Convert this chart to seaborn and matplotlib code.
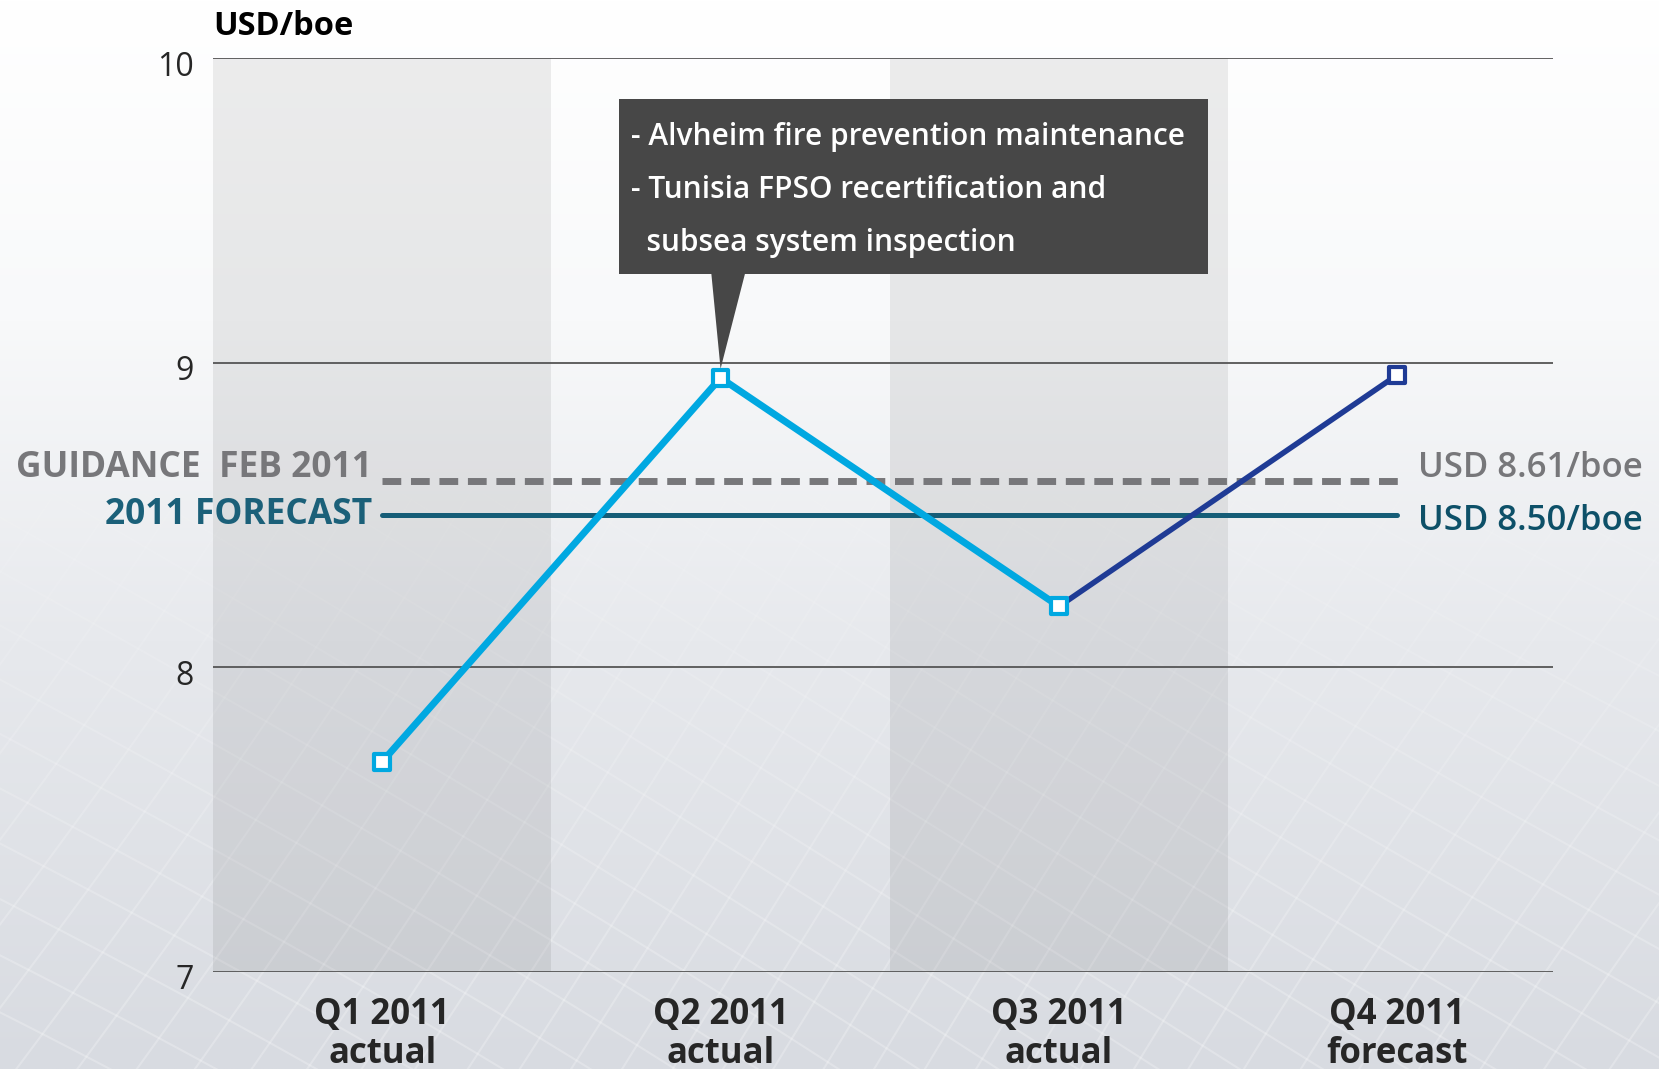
import numpy as np
import pandas as pd
import matplotlib
matplotlib.use("Agg")
import matplotlib.pyplot as plt
import matplotlib.transforms as mtransforms
from matplotlib.patches import Polygon, Rectangle
from matplotlib.collections import LineCollection
from matplotlib.colors import to_rgb
import seaborn as sns

# data
quarters = ["Q1 2011\nactual", "Q2 2011\nactual", "Q3 2011\nactual", "Q4 2011\nforecast"]
cost = [7.69, 8.95, 8.20, 8.96]
status = ["actual", "actual", "actual", "forecast"]
guidance_feb = 8.61
forecast_2011 = 8.50
callout_lines = ["- Alvheim fire prevention maintenance",
                 "- Tunisia FPSO recertification and",
                 "  subsea system inspection"]

LIGHT_BLUE = "#00a8e1"
NAVY = "#1f3b95"
GREY = "#77777a"
TEAL = "#155d77"

sns.set_style("white")
plt.rcParams["font.family"] = ["Open Sans", "DejaVu Sans"]

W, H = 1659, 1069
fig = plt.figure(figsize=(W / 100, H / 100), dpi=100)

# background gradient + faint curved mesh (decoration only)
bg = fig.add_axes([0, 0, 1, 1], zorder=-2)
t = np.linspace(0, 1, 400)
stops = [0.0, 0.3, 0.6, 1.0]
cols = np.array([to_rgb(c) for c in ["#ffffff", "#f8f9fa", "#e7e9ed", "#d8dbe1"]])
grad = np.stack([np.interp(t, stops, cols[:, i]) for i in range(3)], axis=-1)
bg.imshow(grad[:, None, :].repeat(10, axis=1), aspect="auto", extent=[0, W, H, 0])
bg.set_xlim(0, W)
bg.set_ylim(H, 0)
bg.axis("off")

cx, cy = 820, 760
th = np.deg2rad(32)
rot = np.array([[np.cos(th), -np.sin(th)], [np.sin(th), np.cos(th)]])
segs, rgba = [], []
for family in (0, 1):
    for u in np.arange(-1600, 1601, 42):
        v = np.linspace(-1600, 1600, 260)
        p = np.stack([np.full_like(v, u), v], axis=1) if family == 0 else np.stack([v, np.full_like(v, u)], axis=1)
        p = p @ rot.T
        r2 = (p ** 2).sum(axis=1) / 900 ** 2
        p = p * (1 + 0.15 * r2)[:, None]
        x, y = p[:, 0] + cx, p[:, 1] + cy
        pts = np.stack([x, y], axis=1)
        s = np.stack([pts[:-1], pts[1:]], axis=1)
        ym = (y[:-1] + y[1:]) / 2
        a = 0.24 * np.clip((ym - 330) / 650, 0, 1)
        segs.append(s)
        rgba.append(np.column_stack([np.ones((len(a), 3)), a]))
bg.add_collection(LineCollection(np.concatenate(segs), colors=np.concatenate(rgba), linewidths=1.5))

ax = fig.add_axes([213 / W, 1 - 972 / H, (1553 - 213) / W, (972 - 58) / H])
ax.patch.set_alpha(0)

pos = np.arange(len(quarters))
seg = pd.DataFrame({
    "pos": list(pos[:3]) + list(pos[2:]),
    "cost": cost[:3] + cost[2:],
    "segment": ["actual"] * 3 + ["forecast"] * 2,
})

# alternating column bands
for i in pos:
    if i % 2 == 0:
        ax.axvspan(i - 0.5, i + 0.5, color="black", alpha=0.07, lw=0, zorder=0)

ax.set_ylim(7, 10)
ax.set_xlim(-0.5, 3.46)
ax.set_yticks([7, 8, 9, 10])
ax.grid(axis="y", color="#555555", lw=1.3, zorder=1)
ax.grid(axis="x", visible=False)
ax.set_axisbelow(True)

# reference lines
ax.plot([pos[0], pos[-1] + 0.02], [guidance_feb] * 2, color=GREY, lw=5,
        dashes=(2.7, 1.4), zorder=2, dash_capstyle="butt")
ax.plot([pos[0], pos[-1]], [forecast_2011] * 2, color=TEAL, lw=3.6, zorder=2)

sns.lineplot(data=seg, x="pos", y="cost", hue="segment",
             palette={"actual": LIGHT_BLUE, "forecast": NAVY},
             linewidth=5, legend=False, ax=ax, zorder=3)
for ln in ax.lines[-2:]:
    if to_rgb(ln.get_color()) == to_rgb(NAVY):
        ln.set_linewidth(4)

edge = [LIGHT_BLUE if s == "actual" else NAVY for s in status]
ax.scatter(pos, cost, marker="s", s=130, facecolor="white", edgecolors=edge,
           linewidths=3, zorder=5)

# callout
ax.add_patch(Rectangle((0.70, 9.29), 1.74, 0.575, facecolor="#474747",
                       edgecolor="none", zorder=6))
ax.add_patch(Polygon([(0.972, 9.30), (1.074, 9.30), (pos[1], cost[1] + 0.03)],
                     closed=True, facecolor="#474747", edgecolor="none", zorder=4))
for k, line in enumerate(callout_lines):
    ax.text(0.735, 9.74 - k * 0.174, line, color="white", fontsize=21.5,
            fontweight="semibold", va="center", ha="left", zorder=7)

# reference labels
ax.text(-0.03, guidance_feb + 0.045, "GUIDANCE  FEB 2011", color=GREY, fontsize=25.5,
        fontweight="bold", ha="right", va="center")
ax.text(-0.03, forecast_2011, "2011 FORECAST", color="#1b6079", fontsize=25.5,
        fontweight="bold", ha="right", va="center")
ax.text(3.06, guidance_feb + 0.045, "USD 8.61/boe", color=GREY, fontsize=25,
        fontweight="semibold", ha="left", va="center")
ax.text(3.06, forecast_2011 - 0.02, "USD 8.50/boe", color="#0d5068", fontsize=25,
        fontweight="semibold", ha="left", va="center")

ax.text(0.0, 1.035, "USD/boe", transform=ax.transAxes, fontsize=23.5,
        fontweight="bold", ha="left", va="center", color="black")

ax.set_xticks(pos)
ax.set_xticklabels(quarters, fontsize=25, fontweight="bold", linespacing=1.1)
ax.tick_params(axis="x", length=0, pad=18)
ax.tick_params(axis="y", length=0, pad=14, labelsize=23)
shift = mtransforms.ScaledTranslation(0, -5 / 100, fig.dpi_scale_trans)
for lab in ax.get_yticklabels():
    lab.set_transform(lab.get_transform() + shift)
ax.set_xlabel("")
ax.set_ylabel("")
for s in ax.spines.values():
    s.set_visible(False)

fig.savefig("out.png", dpi=100)
